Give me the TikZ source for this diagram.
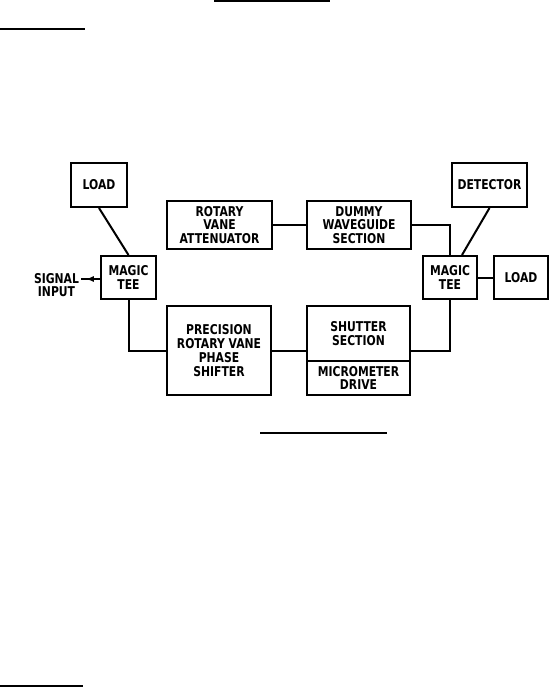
\documentclass[tikz,border=0pt]{standalone}
\usepackage{fontspec}
\newfontfamily\blkfont{DejaVu Sans}[UprightFont={* Bold},FakeStretch=0.8]
\usetikzlibrary{arrows.meta,decorations.markings}

\tikzset{
  blk/.style={draw,line width=2pt,minimum width=#1,align=center,inner sep=0pt,font=\blkfont\fontsize{13.5}{13.8}\selectfont},
  conn/.style={line width=2pt},
  rule/.style={line width=2.4pt}
}

\begin{document}
\begin{tikzpicture}[x=1pt,y=-1pt]
\useasboundingbox (0,0) rectangle (550,688);
% page rules
\draw[rule] (214,1) -- (330,1);
\draw[rule] (0,29) -- (85,29);
\draw[rule] (0,686) -- (83,686);
\draw[line width=1.1pt] (260,433) -- (387,433);
% blocks
\node[blk=56pt,minimum height=44pt] (lload) at (99,185) {LOAD};
\node[blk=55pt,minimum height=43pt] (ltee) at (128.5,277.5) {MAGIC\\TEE};
\node[blk=105pt,minimum height=48pt] (rva) at (219.5,225) {ROTARY\\VANE\\ATTENUATOR};
\node[blk=104pt,minimum height=48pt] (dummy) at (359,225) {DUMMY\\WAVEGUIDE\\SECTION};
\node[blk=54pt,minimum height=43pt] (rtee) at (450,277.5) {MAGIC\\TEE};
\node[blk=75pt,minimum height=44pt] (det) at (489.5,185) {DETECTOR};
\node[blk=54pt,minimum height=43pt] (rload) at (521,277.5) {LOAD};
\node[blk=104pt,minimum height=89pt] (prec) at (219,350.5) {PRECISION\\ROTARY VANE\\PHASE\\SHIFTER};
\node[blk=103pt,minimum height=55pt] (shut) at (358.5,333.5) {SHUTTER\\SECTION};
\node[blk=103pt,minimum height=34pt] (micro) at (358.5,378) {MICROMETER\\DRIVE};
\node[align=center,inner sep=0pt,font=\blkfont\fontsize{13.5}{13.8}\selectfont] (sig) at (56.5,285) {SIGNAL\\INPUT};
% connectors
\coordinate (sigend) at (81,279);
\draw[conn,decoration={markings,mark=at position 0.25 with {\arrowreversed{Latex[length=8pt,width=6pt]}}},postaction={decorate}]
  (sigend) -- (sigend -| ltee.west);
\draw[conn] (lload.south) -- (ltee.north);
\draw[conn] (det.south) -- ([xshift=12pt]rtee.north);
\draw[conn] (rva.east) -- (dummy.west);
\draw[conn] (dummy.east) -| (rtee.north);
\draw[conn] (rtee.east) -- (rload.west);
\draw[conn] (ltee.south) |- (prec.west);
\draw[conn] (prec.east) -- (prec.east -| shut.west);
\draw[conn] (prec.east -| shut.east) -| (rtee.south);
\end{tikzpicture}
\end{document}
